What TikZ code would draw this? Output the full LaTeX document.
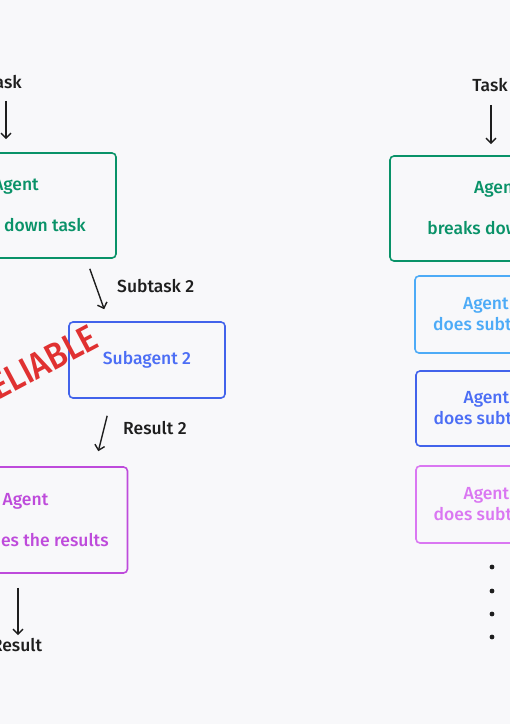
\documentclass[tikz,border=0pt]{standalone}
\usepackage{fontspec}
\setmainfont{Fira Sans}[UprightFont=* Medium, BoldFont=* Bold]
\usetikzlibrary{arrows.meta,calc,positioning}
\definecolor{paper}{HTML}{F8F8FA}
\definecolor{inkblack}{HTML}{1E1E1E}
\definecolor{leadgreen}{HTML}{099268}
\definecolor{subblue}{HTML}{4263EB}
\definecolor{subtext}{HTML}{4C6EF5}
\definecolor{skyblue}{HTML}{4DABF7}
\definecolor{mergepurple}{HTML}{BE4BDB}
\definecolor{paleviolet}{HTML}{DA77F2}
\definecolor{warnred}{HTML}{E03131}
\tikzset{
  agentbox/.style={draw=#1, text=#1, rounded corners=4pt, line width=1.6pt,
    align=center, inner sep=0pt},
  plain/.style={text=inkblack, inner sep=1pt},
  flow/.style={-{Straight Barb[length=5pt,width=10pt]}, line width=1.4pt,
    draw=inkblack},
  warn/.style={text=warnred, font=\fontsize{37}{40}\selectfont, inner sep=0pt}
}

\begin{document}
\begin{tikzpicture}[x=1pt,y=-1pt,font=\fontsize{17.5}{20}\selectfont]
  \useasboundingbox (0,0) rectangle (510,724);
  \clip (0,0) rectangle (510,724);
  \fill[paper] (0,0) rectangle (510,724);

  % chain of agents (left)
  \node[plain] (taskL) at (4,82) {Task};
  \node[agentbox=leadgreen, minimum width=200pt, minimum height=105pt]
    (leadL) at (16,205.5) {Agent\\[21pt]breaks down task};
  \draw[flow, shorten <=11pt, shorten >=13pt] (taskL.south -| 6,0) -- (6,0 |- leadL.north);

  \node[plain, anchor=west] (subtaskLbl) at (116,286) {Subtask 2};
  \node[agentbox=subblue, text=subtext, minimum width=156pt, minimum height=76pt]
    (subL) at (147,360) {Subagent 2};
  \draw[flow] ([shift={(-27,10)}]leadL.south east) -- ([shift={(36,-12)}]subL.north west);

  \node[plain, anchor=west] (resultLbl) at (122,428) {Result 2};
  \node[agentbox=mergepurple, minimum width=204pt, minimum height=106pt]
    (mergeL) at (25.5,520) {Agent\\[21pt]combines the results};
  \draw[flow] ([shift={(39,17)}]subL.south west) -- ([shift={(-30,-15)}]mergeL.north east);

  \node[plain] (resultL) at (17,645) {Result};
  \draw[flow, shorten <=14pt, shorten >=2pt] (mergeL.south -| 18,0) -- (18,0 |- resultL.north);

  \node[warn, rotate=28, xscale=.88, anchor=base east] (unreliable) at (101,346) {UNRELIABLE};

  % parallel agents (right)
  \node[plain] (taskR) at (490,85) {Task};
  \node[agentbox=leadgreen, minimum width=214pt, minimum height=105pt]
    (leadR) at (497,208.5) {Agent\\[21pt]breaks down task};
  \draw[flow, shorten <=12pt, shorten >=11pt] (taskR.south -| 491,0) -- (491,0 |- leadR.north);

  \node[agentbox=skyblue, minimum width=154pt, minimum height=77pt]
    (sub1) at (492,314.5) {Agent 1\\[1pt]does subtask 1};
  \node[agentbox=subblue, text=subtext, minimum width=154pt, minimum height=75pt]
    (sub2) at (493,408.5) {Agent 2\\[1pt]does subtask 2};
  \node[agentbox=paleviolet, minimum width=154pt, minimum height=77pt]
    (sub3) at (493,504.5) {Agent 3\\[1pt]does subtask 3};
  \foreach \dy in {567,591,614,637}
    \fill[inkblack] (492,\dy) circle (2.4pt);
\end{tikzpicture}
\end{document}
